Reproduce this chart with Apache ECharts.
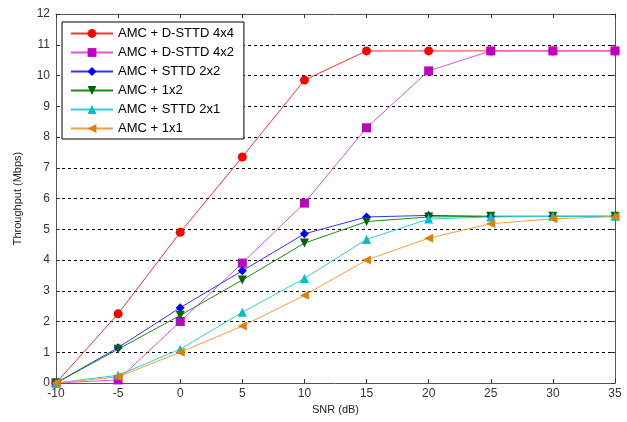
<!DOCTYPE html>
<html>
<head>
<meta charset="utf-8">
<script src="https://cdn.jsdelivr.net/npm/echarts@6/dist/echarts.min.js"></script>
<style>
  html, body { margin: 0; padding: 0; background: #fff; }
  #chart { width: 627px; height: 422px; }
</style>
</head>
<body>
<div id="chart"></div>
<script>
// SNR (dB) 横轴
const snr = [-10, -5, 0, 5, 10, 15, 20, 25, 30, 35]

// 各方案吞吐量 (Mbps)
const dsttd4x4 = [0, 2.25, 4.9, 7.35, 9.85, 10.8, 10.8, 10.8, 10.8, 10.8]
const dsttd4x2 = [0, 0.1, 2.0, 3.9, 5.85, 8.3, 10.15, 10.8, 10.8, 10.8]
const sttd2x2 = [0, 1.15, 2.45, 3.65, 4.85, 5.4, 5.45, 5.42, 5.42, 5.42]
const mimo1x2 = [0, 1.1, 2.2, 3.35, 4.55, 5.25, 5.4, 5.42, 5.42, 5.42]
const sttd2x1 = [0, 0.25, 1.1, 2.3, 3.4, 4.67, 5.33, 5.4, 5.42, 5.42]
const siso1x1 = [0, 0.2, 1.0, 1.85, 2.85, 4.0, 4.71, 5.18, 5.34, 5.41]

const seriesNames = ['AMC + D-STTD 4x4', 'AMC + D-STTD 4x2', 'AMC + STTD 2x2', 'AMC + 1x2', 'AMC + STTD 2x1', 'AMC + 1x1']

const chart = echarts.init(document.getElementById('chart'))

function makeSeries(name, values, symbol, rotate, markerColor, lineColor) {
  return {
    name: name,
    type: 'line',
    data: snr.map((x, i) => [x, values[i]]),
    symbol: symbol,
    symbolSize: 9,
    symbolRotate: rotate,
    showAllSymbol: true,
    itemStyle: { color: markerColor },
    lineStyle: { color: lineColor, width: 1 },
    emphasis: { disabled: true },
    animation: false
  }
}

const axisLine = { show: true, onZero: false, lineStyle: { color: '#555', width: 1 } }
const tickIn = { show: true, inside: true, length: 4, lineStyle: { color: '#333' } }

const option = {
  backgroundColor: '#fff',
  animation: false,
  grid: { left: 56, right: 12, top: 14, bottom: 39 },
  legend: {
    orient: 'vertical',
    left: 62,
    top: 22,
    width: 180,
    padding: [5, 10, 4, 8],
    backgroundColor: '#fff',
    borderColor: '#000',
    borderWidth: 1,
    borderRadius: 0,
    itemWidth: 42,
    itemHeight: 11,
    itemGap: 6,
    textStyle: { fontFamily: 'Liberation Sans, Arial', fontSize: 13, color: '#000' },
    data: seriesNames
  },
  xAxis: [
    {
      type: 'value',
      min: -10,
      max: 35,
      interval: 5,
      name: 'SNR (dB)',
      nameLocation: 'middle',
      nameGap: 20,
      nameTextStyle: { fontFamily: 'Liberation Sans, Arial', fontSize: 11, color: '#222' },
      axisLine: axisLine,
      axisTick: tickIn,
      axisLabel: { fontFamily: 'Liberation Sans, Arial', fontSize: 12, color: '#333', margin: 5 },
      splitLine: { show: false }
    },
    {
      type: 'value',
      position: 'top',
      min: -10,
      max: 35,
      interval: 5,
      axisLine: axisLine,
      axisTick: tickIn,
      axisLabel: { show: false },
      splitLine: { show: false }
    }
  ],
  yAxis: [
    {
      type: 'value',
      min: 0,
      max: 12,
      interval: 1,
      name: 'Throughput (Mbps)',
      nameLocation: 'middle',
      nameGap: 33,
      nameTextStyle: { fontFamily: 'Liberation Sans, Arial', fontSize: 11, color: '#222' },
      axisLine: axisLine,
      axisTick: tickIn,
      axisLabel: { fontFamily: 'Liberation Sans, Arial', fontSize: 12, color: '#333', margin: 6 },
      splitLine: { show: true, lineStyle: { color: '#000', type: [3, 3], width: 1 } }
    },
    {
      type: 'value',
      position: 'right',
      min: 0,
      max: 12,
      interval: 1,
      axisLine: axisLine,
      axisTick: tickIn,
      axisLabel: { show: false },
      splitLine: { show: false }
    }
  ],
  series: [
    makeSeries(seriesNames[0], dsttd4x4, 'circle', 0, '#ff0000', '#ff3030'),
    makeSeries(seriesNames[1], dsttd4x2, 'rect', 0, '#c000c0', '#dd55dd'),
    makeSeries(seriesNames[2], sttd2x2, 'diamond', 0, '#0000ff', '#3333ff'),
    makeSeries(seriesNames[3], mimo1x2, 'triangle', 180, '#006400', '#1a8a1a'),
    makeSeries(seriesNames[4], sttd2x1, 'triangle', 0, '#00c0c0', '#30d0d0'),
    makeSeries(seriesNames[5], siso1x1, 'triangle', 90, '#e08000', '#f0a040')
  ]
}

chart.setOption(option)
</script>
</body>
</html>
